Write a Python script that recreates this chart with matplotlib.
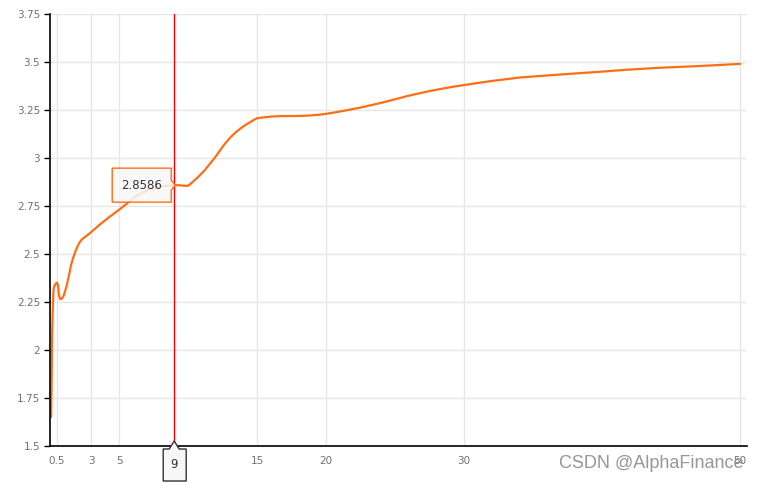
import numpy as np
import matplotlib
matplotlib.use("Agg")
import matplotlib.pyplot as plt
from matplotlib.path import Path
from matplotlib.patches import PathPatch, Polygon

# yield curve (term in years -> yield %)
terms = [0.08, 0.25, 0.5, 0.75, 1, 2, 3, 5, 7, 9, 10, 15, 20, 30, 40, 50]
yields = [1.65, 2.31, 2.35, 2.265, 2.285, 2.54, 2.615, 2.73, 2.83, 2.8586, 2.855,
          3.207, 3.23, 3.38, 3.45, 3.49]
x_ticks = [0.5, 3, 5, 9, 15, 20, 30, 50]
x_tick_labels = ["0.5", "3", "5", "", "15", "20", "30", "50"]
y_ticks = [1.5, 1.75, 2, 2.25, 2.5, 2.75, 3, 3.25, 3.5, 3.75]
y_tick_labels = ["1.5", "1.75", "2", "2.25", "2.5", "2.75", "3", "3.25", "3.5", "3.75"]
hover_term = 9
hover_value = 2.8586

line_color = "#ff6e14"
label_color = "#6e7079"

W, H = 760, 483
fig = plt.figure(figsize=(W / 100, H / 100), dpi=100)
ax = fig.add_axes([50 / W, 37 / H, 697 / W, 432 / H])
ax.set_xlim(0, 50.5)
ax.set_ylim(1.5, 3.75)


def smooth_path(xs, ys, sx, sy, smooth=0.5):
    # bezier smoothing like echarts: control points clamped between neighbours
    px = np.array(xs) * sx
    py = np.array(ys) * sy
    n = len(px)
    cin = [None] * n
    cout = [None] * n
    for i in range(n):
        pi = max(i - 1, 0)
        ni = min(i + 1, n - 1)
        vx = px[ni] - px[pi]
        vy = py[ni] - py[pi]
        d0 = np.hypot(px[i] - px[pi], py[i] - py[pi])
        d1 = np.hypot(px[ni] - px[i], py[ni] - py[i])
        r = d1 / (d0 + d1) if d0 + d1 > 0 else 0.5
        c0 = [px[i] - vx * smooth * (1 - r), py[i] - vy * smooth * (1 - r)]
        c1 = [px[i] + vx * smooth * r, py[i] + vy * smooth * r]
        c0[0] = min(max(c0[0], min(px[pi], px[i])), max(px[pi], px[i]))
        c0[1] = min(max(c0[1], min(py[pi], py[i])), max(py[pi], py[i]))
        c1[0] = min(max(c1[0], min(px[ni], px[i])), max(px[ni], px[i]))
        c1[1] = min(max(c1[1], min(py[ni], py[i])), max(py[ni], py[i]))
        cin[i], cout[i] = c0, c1
    verts = [(px[0], py[0])]
    codes = [Path.MOVETO]
    for i in range(n - 1):
        verts += [tuple(cout[i]), tuple(cin[i + 1]), (px[i + 1], py[i + 1])]
        codes += [Path.CURVE4] * 3
    verts = [(a / sx, b / sy) for a, b in verts]
    return Path(verts, codes)


ax.add_patch(PathPatch(smooth_path(terms, yields, 13.8, 192), fill=False,
                       edgecolor=line_color, lw=1.6, zorder=3, capstyle="round"))

ax.set_xticks(x_ticks)
ax.set_xticklabels(x_tick_labels)
ax.set_yticks(y_ticks)
ax.set_yticklabels(y_tick_labels)
ax.tick_params(axis="x", length=0, pad=7, labelsize=7.5, labelcolor=label_color)
ax.tick_params(axis="y", length=4, width=1, pad=3, labelsize=7.5,
               labelcolor=label_color, color="black")
ax.grid(True, color="#e6e6e6", lw=1)
ax.set_axisbelow(True)
for s in ["top", "right"]:
    ax.spines[s].set_visible(False)
for s in ["left", "bottom"]:
    ax.spines[s].set_color("black")
    ax.spines[s].set_linewidth(1.2)
    ax.spines[s].set_zorder(4)

# crosshair
ax.axvline(hover_term, color="#ff0000", lw=1, zorder=5)

fig.canvas.draw()
ax_px, ay_px = ax.transData.transform((hover_term, hover_value))
bx_px, by_px = ax.transData.transform((hover_term, 1.5))

# value tooltip (box left of the point, pointer to the right)
tip = [(-62, 17), (-3, 17), (-3, 5), (1, 0), (-3, -5), (-3, -17), (-62, -17)]
fig.patches.append(Polygon([(ax_px + a, ay_px + b) for a, b in tip], closed=True,
                           transform=None, facecolor="#f7f7f7", alpha=0.85,
                           edgecolor="none", zorder=6, figure=fig))
fig.patches.append(Polygon([(ax_px + a, ay_px + b) for a, b in tip], closed=True,
                           transform=None, facecolor="none",
                           edgecolor=line_color, lw=1, zorder=7, figure=fig))
fig.text((ax_px - 33) / W, ay_px / H, f"{hover_value:.4f}", ha="center", va="center",
         fontsize=8.5, color="#333333", zorder=8)

# x-axis pointer label
tip2 = [(-11, -35), (12, -35), (12, -3), (5, -3), (0, 5), (-5, -3), (-11, -3)]
fig.patches.append(Polygon([(bx_px + a, by_px + b) for a, b in tip2], closed=True,
                           transform=None, facecolor="#f7f7f7",
                           edgecolor="#333333", lw=1, zorder=7, figure=fig))
fig.text(bx_px / W, (by_px - 18) / H, str(hover_term), ha="center", va="center",
         fontsize=8.5, color="#333333", zorder=8)

fig.text(651 / W, 20 / H, "CSDN @AlphaFinance", ha="center", va="center",
         fontsize=13, family="Liberation Sans", color="#8c8c8c", alpha=0.9, zorder=9)

fig.savefig("out.png", dpi=100)
